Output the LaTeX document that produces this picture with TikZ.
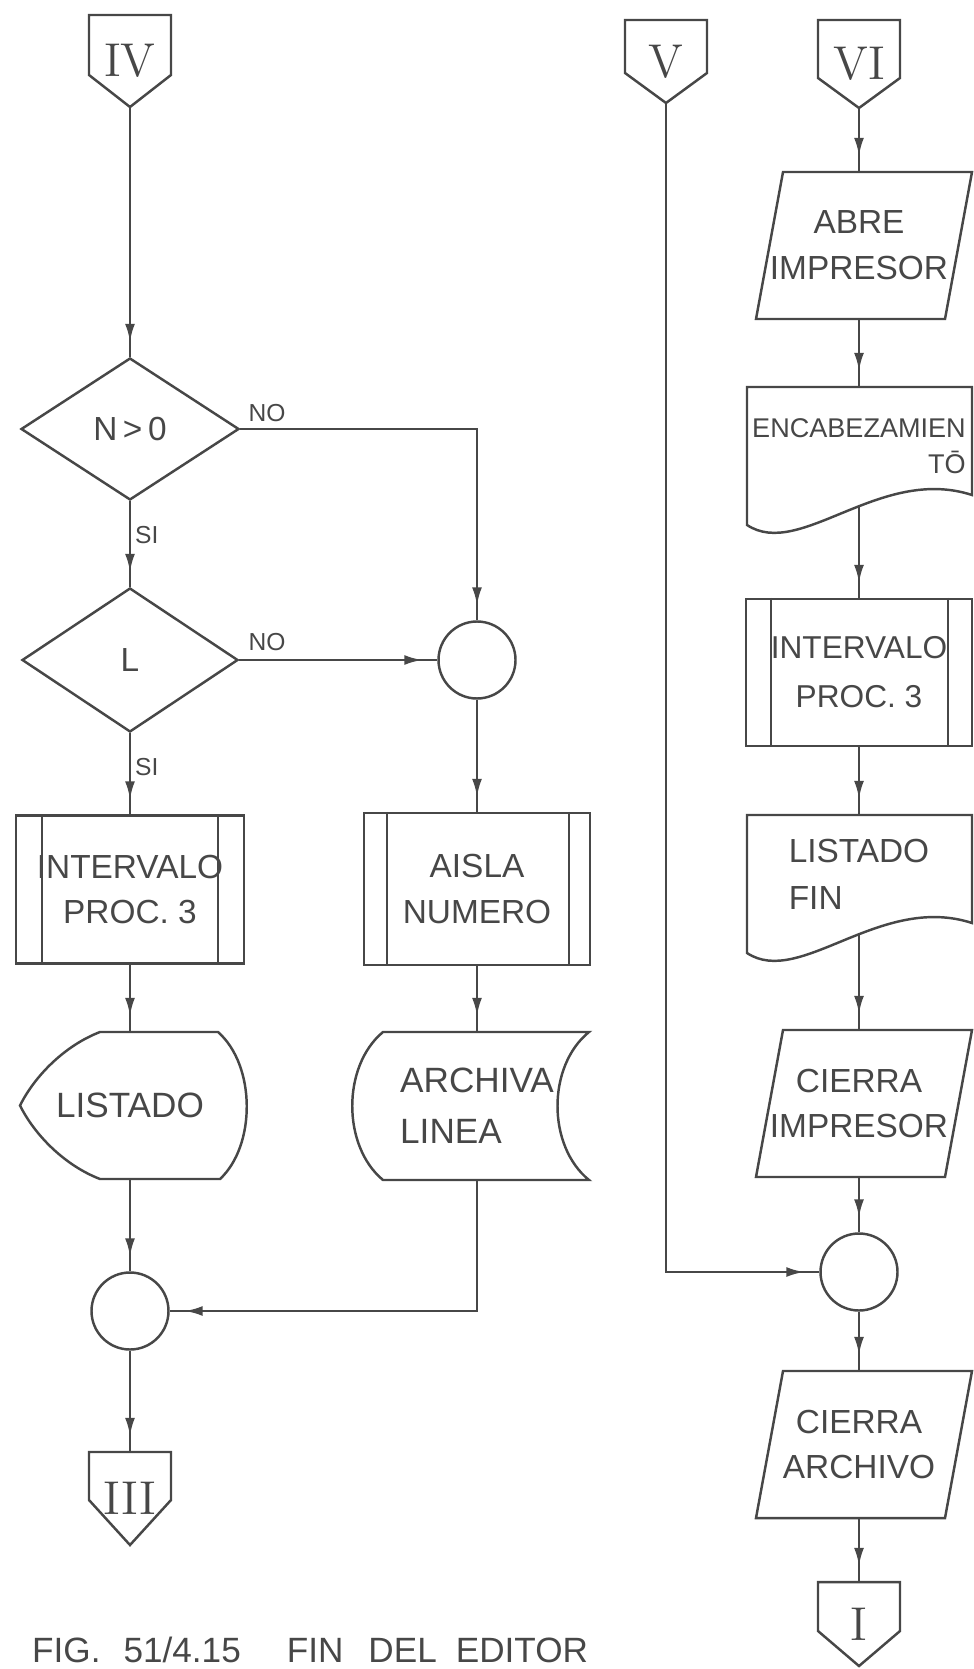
\documentclass[tikz,border=0pt]{standalone}
\usepackage{fontspec}
\setsansfont{Liberation Sans}
\usetikzlibrary{shapes.geometric,arrows.meta,decorations.markings}
\tikzset{
  flow/.style={postaction={decorate}, decoration={markings,
    mark=at position -1.5mm with {\arrow{Latex[length=1.8mm,width=1mm]}}}},
  txtbox/.style={font=\sffamily\fontsize{9.5}{13}\selectfont, align=center, inner sep=0pt},
  offpage/.style={font=\fontsize{13.5}{13.5}\selectfont, minimum width=0.82cm, inner sep=0pt},
  decision/.style={txtbox, diamond, draw},
  junction/.style={circle, draw, minimum size=0.77cm, inner sep=0pt},
  proc/.style={txtbox, draw, minimum width=2.28cm, minimum height=1.48cm},
  io/.style={txtbox, minimum width=2.0cm, minimum height=1.47cm},
  doc/.style={txtbox, minimum width=2.2cm, minimum height=1.19cm},
  disp/.style={txtbox, minimum width=2.2cm, minimum height=1.47cm},
  store/.style={txtbox, align=left, minimum width=2.0cm, minimum height=1.48cm},
  tag/.style={font=\sffamily\fontsize{7}{8}\selectfont, inner sep=0pt}
}
\begin{document}
\begin{tikzpicture}[line width=0.7pt, color=black!72]
  \useasboundingbox (0,0) rectangle (9.74,-16.69);
  \clip (0,0) rectangle (9.74,-16.69);
  \node[offpage, minimum height=0.92cm] (conIV) at (1.30,-0.61) {IV};
  \draw[shift={(conIV)}] (-0.41,0.46) -- (0.41,0.46) -- (0.41,-0.14) -- (0,-0.46) -- (-0.41,-0.14) -- cycle;
  \node[decision, minimum width=2.18cm, minimum height=1.42cm] (npos) at (1.30,-4.29) {N\,>\,0};
  \node[decision, minimum width=2.16cm, minimum height=1.44cm] (ell) at (1.30,-6.60) {L};
  \node[proc] (intA) at (1.30,-8.895) {INTERVALO\\PROC.\ 3};
  \draw ([xshift=0.27cm]intA.north west) -- ([xshift=0.27cm]intA.south west)
        ([xshift=-0.27cm]intA.north east) -- ([xshift=-0.27cm]intA.south east);
  \node[disp, font=\sffamily\fontsize{10}{13}\selectfont] (lst) at (1.30,-11.055) {LISTADO};
  \draw[shift={(lst)}] (-0.30,0.735) -- (0.88,0.735) .. controls (1.26,0.40) and (1.26,-0.40) .. (0.90,-0.735)
        -- (-0.30,-0.735) .. controls (-0.65,-0.60) and (-0.95,-0.30) .. (-1.10,0)
        .. controls (-0.95,0.30) and (-0.65,0.60) .. (-0.30,0.735) -- cycle;
  \node[junction] (cirA) at (1.30,-13.11) {};
  \node[offpage, minimum height=0.93cm] (conIII) at (1.30,-14.985) {III};
  \draw[shift={(conIII)}] (-0.41,0.465) -- (0.41,0.465) -- (0.41,-0.015) -- (0,-0.465) -- (-0.41,-0.015) -- cycle;

  \node[junction] (cirB) at (4.77,-6.60) {};
  \node[proc, minimum width=2.26cm, minimum height=1.52cm] (aisla) at (4.77,-8.89) {AISLA\\NUMERO};
  \draw ([xshift=0.24cm]aisla.north west) -- ([xshift=0.24cm]aisla.south west)
        ([xshift=-0.22cm]aisla.north east) -- ([xshift=-0.22cm]aisla.south east);
  \node[store, font=\sffamily\fontsize{10}{14.5}\selectfont] (arch) at (4.77,-11.06) {ARCHIVA\\LINEA};
  \draw[shift={(arch)}] (-0.94,0.74) -- (1.12,0.74) .. controls (0.70,0.40) and (0.70,-0.40) .. (1.12,-0.74)
        -- (-0.94,-0.74) .. controls (-1.35,-0.40) and (-1.35,0.40) .. (-0.94,0.74) -- cycle;

  \node[offpage, minimum height=0.83cm] (conV) at (6.66,-0.615) {V};
  \draw[shift={(conV)}] (-0.41,0.415) -- (0.41,0.415) -- (0.41,-0.115) -- (0,-0.415) -- (-0.41,-0.115) -- cycle;

  \node[offpage, minimum height=0.88cm] (conVI) at (8.59,-0.64) {VI};
  \draw[shift={(conVI)}] (-0.41,0.44) -- (0.41,0.44) -- (0.41,-0.14) -- (0,-0.44) -- (-0.41,-0.14) -- cycle;
  \node[io] (abre) at (8.59,-2.455) {ABRE\\IMPRESOR};
  \draw[shift={(abre)}] (-0.76,0.735) -- (1.13,0.735) -- (0.86,-0.735) -- (-1.03,-0.735) -- cycle;
  \node[doc, align=right, font=\sffamily\fontsize{7.7}{10.2}\selectfont] (encab) at (8.59,-4.465) {ENCABEZAMIEN\\TŌ};
  \draw[shift={(encab)}] (-1.12,0.595) -- (1.13,0.595) -- (1.13,-0.485) .. controls (0.21,-0.185) and (-0.59,-1.135) .. (-1.12,-0.785) -- cycle;
  \node[proc, minimum width=2.26cm, minimum height=1.47cm, font=\sffamily\fontsize{9}{14}\selectfont] (intB) at (8.59,-6.725) {INTERVALO\\PROC.\ 3};
  \draw ([xshift=0.26cm]intB.north west) -- ([xshift=0.26cm]intB.south west)
        ([xshift=-0.25cm]intB.north east) -- ([xshift=-0.25cm]intB.south east);
  \node[doc, align=left, font=\sffamily\fontsize{9.5}{13.5}\selectfont] (lfin) at (8.59,-8.745) {LISTADO\\FIN};
  \draw[shift={(lfin)}] (-1.12,0.595) -- (1.13,0.595) -- (1.13,-0.485) .. controls (0.21,-0.185) and (-0.59,-1.135) .. (-1.12,-0.785) -- cycle;
  \node[io] (cimp) at (8.59,-11.035) {CIERRA\\IMPRESOR};
  \draw[shift={(cimp)}] (-0.76,0.735) -- (1.13,0.735) -- (0.86,-0.735) -- (-1.03,-0.735) -- cycle;
  \node[junction] (cirC) at (8.59,-12.72) {};
  \node[io] (carch) at (8.59,-14.445) {CIERRA\\ARCHIVO};
  \draw[shift={(carch)}] (-0.76,0.735) -- (1.13,0.735) -- (0.86,-0.735) -- (-1.03,-0.735) -- cycle;
  \node[offpage, minimum height=0.84cm] (conI) at (8.59,-16.24) {I};
  \draw[shift={(conI)}] (-0.41,0.42) -- (0.41,0.42) -- (0.41,-0.07) -- (0,-0.42) -- (-0.41,-0.07) -- cycle;

  \draw[flow] (conIV.south) -- (npos.north);
  \draw[flow] (npos.south) -- (ell.north);
  \draw[flow] (npos.east) -| (cirB.north);
  \draw[flow] (ell.east) -- (cirB.west);
  \draw[flow] (ell.south) -- (intA.north);
  \draw[flow] (intA.south) -- (lst.north);
  \draw[flow] (lst.south) -- (cirA.north);
  \draw[flow] (cirA.south) -- (conIII.north);
  \draw[flow] (cirB.south) -- (aisla.north);
  \draw[flow] (aisla.south) -- (arch.north);
  \draw[flow] (arch.south) |- (cirA.east);
  \draw[flow] (conV.south) |- (cirC.west);
  \draw[flow] (conVI.south) -- (abre.north);
  \draw[flow] (abre.south) -- (encab.north);
  \draw[flow] (encab.south) -- (intB.north);
  \draw[flow] (intB.south) -- (lfin.north);
  \draw[flow] (lfin.south) -- (cimp.north);
  \draw[flow] (cimp.south) -- (cirC.north);
  \draw[flow] (cirC.south) -- (carch.north);
  \draw[flow] (carch.south) -- (conI.north);

  \node[tag] (no1) at (2.67,-4.13) {NO};
  \node[tag] (no2) at (2.67,-6.42) {NO};
  \node[tag, anchor=west] (si1) at (1.34,-5.35) {SI};
  \node[tag, anchor=west] (si2) at (1.34,-7.67) {SI};
  \node[font=\sffamily\fontsize{10}{12}\selectfont, anchor=base west, inner sep=0pt] (caption) at (0.31,-16.62)
    {FIG.\hspace{0.23cm}51/4.15\hspace{0.46cm}FIN\hspace{0.25cm}DEL\hspace{0.19cm}EDITOR};
\end{tikzpicture}
\end{document}
